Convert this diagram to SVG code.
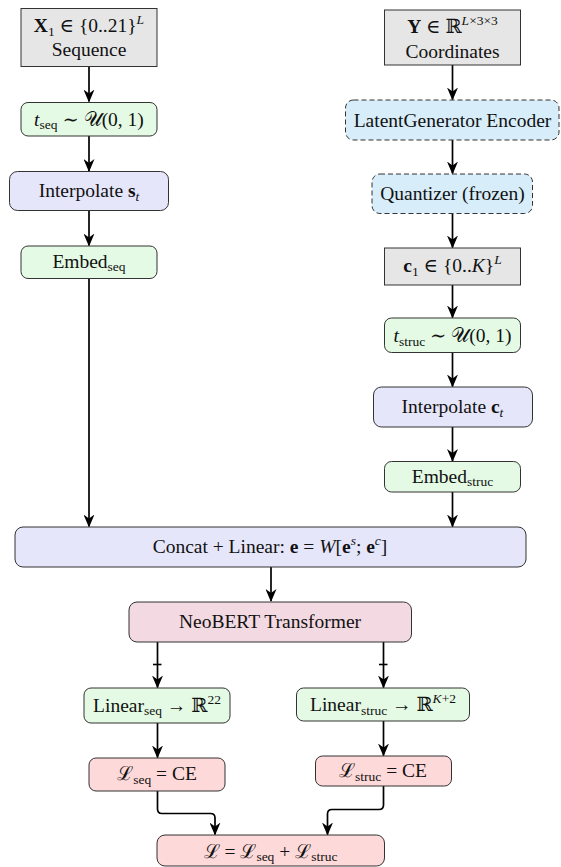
<svg xmlns="http://www.w3.org/2000/svg" width="561" height="867" viewBox="0 0 561 867">
  <style>
    text { font-family: "Liberation Serif", "DejaVu Serif", serif; font-size: 19.5px; font-weight: normal; fill: #111; text-anchor: middle; }
    .it { font-style: italic; }
    .bf { font-weight: bold; }
    .sm { font-size: 13.5px; }
    .cal { font-family: "DejaVu Serif", serif; font-style: normal; }
    .box { stroke: #333; stroke-width: 1; }
    .gray { fill: #e6e6e6; }
    .green { fill: #e4fae4; }
    .lav { fill: #e6e6fb; }
    .cyan { fill: #d7edf9; stroke-dasharray: 5 3; }
    .pink { fill: #f3d9e2; }
    .red { fill: #fdd9d9; }
    .edge { fill: none; stroke: #000; stroke-width: 1.7; marker-end: url(#head); }
    .tick { fill: none; stroke: #000; stroke-width: 1.6; }
  </style>
  <defs>
    <marker id="head" markerUnits="userSpaceOnUse" viewBox="0 0 13 11" refX="12" refY="5.5" markerWidth="13" markerHeight="11" orient="auto">
      <path d="M13,5.5 L0,0 L4,5.5 L0,11 Z" fill="#000"/>
    </marker>
  </defs>

  <!-- connectors -->
  <g id="connectors">
    <!-- sequence branch -->
    <path class="edge" d="M89,66.5 V101.5"/>
    <path class="edge" d="M89,136 V171"/>
    <path class="edge" d="M89,210.5 V245.5"/>
    <path class="edge" d="M89,278.5 V526.5"/>
    <!-- structure branch -->
    <path class="edge" d="M452.5,65 V99.5"/>
    <path class="edge" d="M452.5,140 V173.5"/>
    <path class="edge" d="M452.5,213.5 V247.5"/>
    <path class="edge" d="M452.5,285 V317.5"/>
    <path class="edge" d="M452.5,352.5 V386.5"/>
    <path class="edge" d="M452.5,427 V461"/>
    <path class="edge" d="M452.5,492 V526.5"/>
    <!-- fusion and backbone -->
    <path class="edge" d="M271,567 V601"/>
    <path class="edge" d="M157.5,642 V687.5"/>
    <path class="tick" d="M153,664.5 H161.5"/>
    <path class="edge" d="M383.5,642 V687.5"/>
    <path class="tick" d="M379,664.5 H387.5"/>
    <!-- output heads -->
    <path class="edge" d="M157.5,723 V757.5"/>
    <path class="edge" d="M383.5,721 V755.5"/>
    <!-- losses into total -->
    <path class="edge" d="M157.5,791 V809 Q157.5,813.5 162,813.5 H210.5 Q215,813.5 215,818 V834.5"/>
    <path class="edge" d="M383.5,786 V805 Q383.5,809.5 379,809.5 H332 Q327.5,809.5 327.5,814 V834.5"/>
  </g>

  <!-- inputs -->
  <g id="seq-input">
    <rect class="box gray" x="21" y="8.5" width="136" height="58"/>
    <text x="89" y="32"><tspan class="bf">X</tspan><tspan class="sm" dy="4">1</tspan><tspan dy="-4"> ∈ {0..21}</tspan><tspan class="sm it" dy="-8">L</tspan></text>
    <text x="89" y="56">Sequence</text>
  </g>
  <g id="coord-input">
    <rect class="box gray" x="384.5" y="10" width="136" height="55"/>
    <text x="452.5" y="33"><tspan class="bf">Y</tspan> ∈ ℝ<tspan class="sm" dy="-8"><tspan class="it">L</tspan>×3×3</tspan></text>
    <text x="452.5" y="58">Coordinates</text>
  </g>

  <!-- sequence branch -->
  <g id="t-seq">
    <rect class="box green" x="21" y="102.5" width="136" height="33.5" rx="7"/>
    <text x="89" y="125.5"><tspan class="it">t</tspan><tspan class="sm" dy="3.5">seq</tspan><tspan dy="-3.5"> ∼ </tspan><tspan class="cal">𝒰</tspan>(0, 1)</text>
  </g>
  <g id="interp-seq">
    <rect class="box lav" x="9.5" y="171.5" width="159" height="39" rx="8"/>
    <text x="89" y="197">Interpolate <tspan class="bf">s</tspan><tspan class="sm it" dy="3.5">t</tspan></text>
  </g>
  <g id="embed-seq">
    <rect class="box green" x="21" y="246" width="136" height="32.5" rx="7"/>
    <text x="89" y="267.5">Embed<tspan class="sm" dy="3.5">seq</tspan></text>
  </g>

  <!-- structure branch -->
  <g id="encoder">
    <rect class="box cyan" x="345.5" y="100" width="213.5" height="40" rx="8"/>
    <text x="452.5" y="127">LatentGenerator Encoder</text>
  </g>
  <g id="quantizer">
    <rect class="box cyan" x="372" y="174" width="160.5" height="39.5" rx="8"/>
    <text x="452.5" y="200">Quantizer (frozen)</text>
  </g>
  <g id="tokens">
    <rect class="box gray" x="384.5" y="248" width="136" height="37"/>
    <text x="452.5" y="272"><tspan class="bf">c</tspan><tspan class="sm" dy="3.5">1</tspan><tspan dy="-3.5"> ∈ {0..</tspan><tspan class="it">K</tspan>}<tspan class="sm it" dy="-8">L</tspan></text>
  </g>
  <g id="t-struc">
    <rect class="box green" x="384.5" y="318" width="136" height="34.5" rx="7"/>
    <text x="452.5" y="342"><tspan class="it">t</tspan><tspan class="sm" dy="3.5">struc</tspan><tspan dy="-3.5"> ∼ </tspan><tspan class="cal">𝒰</tspan>(0, 1)</text>
  </g>
  <g id="interp-struc">
    <rect class="box lav" x="373.5" y="387" width="159" height="40" rx="8"/>
    <text x="452.5" y="413">Interpolate <tspan class="bf">c</tspan><tspan class="sm it" dy="3.5">t</tspan></text>
  </g>
  <g id="embed-struc">
    <rect class="box green" x="384.5" y="461.5" width="136" height="30.5" rx="7"/>
    <text x="452.5" y="482.5">Embed<tspan class="sm" dy="3.5">struc</tspan></text>
  </g>

  <!-- fusion -->
  <g id="concat">
    <rect class="box lav" x="15" y="527" width="511" height="40" rx="8"/>
    <text x="270" y="553">Concat + Linear: <tspan class="bf">e</tspan> = <tspan class="it">W</tspan>[<tspan class="bf">e</tspan><tspan class="sm it" dy="-8">s</tspan><tspan dy="8">; </tspan><tspan class="bf">e</tspan><tspan class="sm it" dy="-8">c</tspan><tspan dy="8">]</tspan></text>
  </g>
  <g id="transformer">
    <rect class="box pink" x="129" y="602" width="282.5" height="40" rx="8"/>
    <text x="270" y="628">NeoBERT Transformer</text>
  </g>

  <!-- heads -->
  <g id="head-seq">
    <rect class="box green" x="84" y="688" width="146" height="35" rx="7"/>
    <text x="157" y="711.5">Linear<tspan class="sm" dy="3.5">seq</tspan><tspan dy="-3.5"> → ℝ</tspan><tspan class="sm" dy="-8">22</tspan></text>
  </g>
  <g id="head-struc">
    <rect class="box green" x="296.5" y="688" width="173" height="33" rx="7"/>
    <text x="383" y="711">Linear<tspan class="sm" dy="3.5">struc</tspan><tspan dy="-3.5"> → ℝ</tspan><tspan class="sm" dy="-8"><tspan class="it">K</tspan>+2</tspan></text>
  </g>

  <!-- losses -->
  <g id="loss-seq">
    <rect class="box red" x="89" y="758" width="136" height="33" rx="7"/>
    <text x="157" y="780"><tspan class="cal">ℒ</tspan><tspan class="sm" dy="3.5">seq</tspan><tspan dy="-3.5"> = CE</tspan></text>
  </g>
  <g id="loss-struc">
    <rect class="box red" x="315.5" y="756" width="136" height="30" rx="7"/>
    <text x="383" y="777"><tspan class="cal">ℒ</tspan><tspan class="sm" dy="3.5">struc</tspan><tspan dy="-3.5"> = CE</tspan></text>
  </g>
  <g id="loss-total">
    <rect class="box red" x="157" y="835" width="227.5" height="31" rx="8"/>
    <text x="270.5" y="857.5"><tspan class="cal">ℒ</tspan> = <tspan class="cal">ℒ</tspan><tspan class="sm" dy="3.5">seq</tspan><tspan dy="-3.5"> + </tspan><tspan class="cal">ℒ</tspan><tspan class="sm" dy="3.5">struc</tspan></text>
  </g>
</svg>
